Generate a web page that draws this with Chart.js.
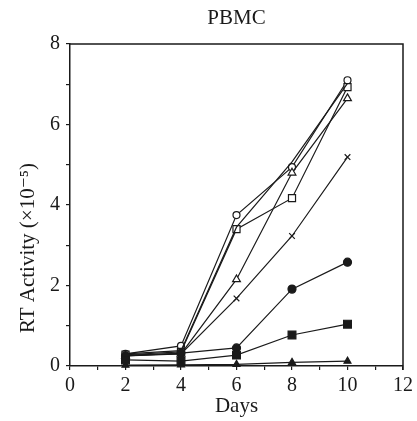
<!DOCTYPE html>
<html>
<head>
<meta charset="utf-8">
<script src="https://cdn.jsdelivr.net/npm/chart.js@4.4.0/dist/chart.umd.min.js"></script>
<style>
  body { margin: 0; background: #fff; }
</style>
</head>
<body>
<canvas id="rt_chart" width="417" height="421"></canvas>
<script>
const days = [2, 4, 6, 8, 10];
const openCircle = [0.3, 0.5, 3.75, 4.94, 7.1];
const openSquare = [0.28, 0.35, 3.4, 4.17, 6.93];
const openTriangle = [0.25, 0.3, 2.15, 4.8, 6.65];
const cross = [0.27, 0.3, 1.68, 3.23, 5.19];
const filledCircle = [0.25, 0.32, 0.45, 1.91, 2.58];
const filledSquare = [0.15, 0.12, 0.27, 0.77, 1.04];
const filledTriangle = [0.02, 0.03, 0.04, 0.09, 0.12];
const noMarker = [0.3, 0.38, 3.45, 5.07, 7.02];

const chartTitle = "PBMC";
const xTitle = "Days";
const yTitle = "RT Activity (×10⁻⁵)";

const ink = "#1a1a1a";
const serif = "'Liberation Serif', 'DejaVu Serif', serif";

function series(values, style, radius, filled) {
  return {
    data: days.map((d, i) => ({x: d, y: values[i]})),
    borderColor: ink,
    borderWidth: 1.2,
    pointStyle: style,
    pointRadius: radius,
    pointBorderWidth: 1.2,
    pointBorderColor: ink,
    pointBackgroundColor: filled ? ink : "#fff",
    clip: false
  };
}

// box around the plot (top and right sides) plus the titles
const frame = {
  id: "frame",
  afterDatasetsDraw(chart) {
    const a = chart.chartArea;
    const ctx = chart.ctx;
    ctx.save();
    ctx.strokeStyle = ink;
    ctx.lineWidth = 1.5;
    ctx.beginPath();
    ctx.moveTo(a.left, a.top);
    ctx.lineTo(a.right, a.top);
    ctx.lineTo(a.right, a.bottom + 4);
    ctx.stroke();

    ctx.fillStyle = ink;
    ctx.textAlign = "center";
    ctx.textBaseline = "middle";
    ctx.font = "21px " + serif;
    ctx.fillText(chartTitle, (a.left + a.right) / 2, 18);
    ctx.fillText(xTitle, (a.left + a.right) / 2, 406);
    ctx.translate(28, 248);
    ctx.rotate(-Math.PI / 2);
    ctx.fillText(yTitle, 0, 0);
    ctx.restore();
  }
};

new Chart("rt_chart", {
  type: "line",
  data: {
    datasets: [
      series(filledTriangle, "triangle", 4, true),
      series(filledSquare, "rect", 5.5, true),
      series(filledCircle, "circle", 4, true),
      series(cross, "crossRot", 4, false),
      series(noMarker, false, 0, false),
      series(openTriangle, "triangle", 4.5, false),
      series(openSquare, "rect", 5, false),
      series(openCircle, "circle", 3.5, false)
    ]
  },
  options: {
    responsive: false,
    devicePixelRatio: 1,
    animation: false,
    layout: {padding: {left: 0, right: 14, top: 44, bottom: 0}},
    plugins: {
      legend: {display: false},
      tooltip: {enabled: false},
      title: {display: false}
    },
    scales: {
      x: {
        type: "linear",
        min: 0,
        max: 12,
        ticks: {
          stepSize: 1,
          autoSkip: false,
          maxRotation: 0,
          padding: 4,
          color: ink,
          font: {family: serif, size: 20},
          callback: v => v % 2 === 0 ? v : ""
        },
        grid: {drawOnChartArea: false, drawTicks: true, tickLength: 4, color: ink, lineWidth: 1.2},
        border: {color: ink, width: 1.5},
        afterFit(scale) { scale.height = 55; }
      },
      y: {
        min: 0,
        max: 8,
        ticks: {
          stepSize: 1,
          autoSkip: false,
          padding: 6,
          color: ink,
          font: {family: serif, size: 20},
          callback: v => v % 2 === 0 ? v : ""
        },
        grid: {drawOnChartArea: false, drawTicks: true, tickLength: 4, color: ink, lineWidth: 1.2},
        border: {color: ink, width: 1.5},
        afterFit(scale) { scale.width = 70; }
      }
    }
  },
  plugins: [frame]
});
</script>
</body>
</html>
